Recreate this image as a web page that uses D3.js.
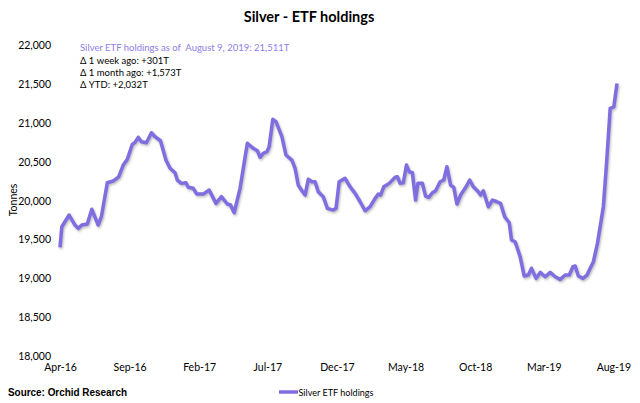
<!DOCTYPE html>
<html>
<head>
<meta charset="utf-8">
<script src="https://cdn.jsdelivr.net/npm/d3@7"></script>
<style>
  body { margin: 0; background: #fff; }
  text { font-family: Lato, "Open Sans", sans-serif; }
</style>
</head>
<body>
<div id="chart"></div>
<script>
// weekly-ish readings (tonnes)
const dates = [
  "2016-04-01","2016-04-05","2016-04-21","2016-05-04","2016-05-11","2016-05-19","2016-05-31","2016-06-10",
  "2016-06-24","2016-07-01","2016-07-14","2016-07-27","2016-08-08","2016-08-18","2016-08-27","2016-09-07",
  "2016-09-13","2016-09-20","2016-09-27","2016-10-08","2016-10-19","2016-10-27","2016-11-08","2016-11-20",
  "2016-11-29","2016-12-10","2016-12-15","2016-12-24","2017-01-03","2017-01-08","2017-01-19","2017-01-27",
  "2017-02-10","2017-02-23","2017-03-10","2017-03-22","2017-04-04","2017-04-11","2017-04-19","2017-05-02",
  "2017-05-18","2017-05-31","2017-06-09","2017-06-15","2017-06-22","2017-06-30","2017-07-05","2017-07-13",
  "2017-07-20","2017-08-02","2017-08-11","2017-08-24","2017-08-31","2017-09-07","2017-09-14","2017-09-22",
  "2017-09-29","2017-10-07","2017-10-14","2017-10-21","2017-11-01","2017-11-10","2017-11-23","2017-11-29",
  "2017-12-06","2017-12-19","2017-12-30","2018-01-10","2018-01-21","2018-02-01","2018-02-12","2018-02-23",
  "2018-03-02","2018-03-07","2018-03-14","2018-03-26","2018-04-08","2018-04-13","2018-04-19","2018-04-26",
  "2018-05-03","2018-05-09","2018-05-16","2018-05-23","2018-05-28","2018-06-07","2018-06-14","2018-06-21",
  "2018-06-29","2018-07-06","2018-07-16","2018-07-24","2018-07-31","2018-08-08","2018-08-15","2018-08-22",
  "2018-08-30","2018-09-11","2018-09-19","2018-09-27","2018-10-08","2018-10-13","2018-10-19","2018-10-30",
  "2018-11-08","2018-11-18","2018-11-26","2018-12-05","2018-12-15","2018-12-20","2018-12-28","2019-01-08",
  "2019-01-17","2019-01-26","2019-02-02","2019-02-12","2019-02-21","2019-03-04","2019-03-15","2019-03-26",
  "2019-04-06","2019-04-17","2019-04-26","2019-05-04","2019-05-09","2019-05-16","2019-05-26","2019-06-04",
  "2019-06-11","2019-06-18","2019-06-27","2019-07-10","2019-07-17","2019-07-25","2019-08-02","2019-08-09"
];
const holdings = [
  19400,19665,19816,19687,19644,19687,19700,19890,
  19687,19794,20232,20254,20309,20460,20533,20727,
  20752,20817,20760,20748,20876,20825,20773,20524,
  20418,20360,20267,20224,20232,20173,20160,20086,
  20086,20138,19966,20052,19958,19945,19845,20160,
  20740,20675,20645,20560,20611,20632,20696,21049,
  21018,20825,20589,20524,20418,20202,20138,20073,
  20276,20245,20245,20116,20052,19902,19880,19902,
  20245,20289,20180,20095,19987,19871,19923,20031,
  20086,20073,20180,20224,20302,20309,20224,20232,
  20460,20374,20361,20009,20224,20224,20060,20043,
  20103,20129,20245,20267,20438,20202,20173,19958,
  20073,20180,20267,20180,20116,20073,20129,19923,
  20009,19987,19966,19794,19716,19494,19472,19278,
  19030,19043,19129,19000,19077,19021,19077,19021,
  18987,19043,19043,19150,19159,19030,19000,19043,
  19129,19214,19451,19923,20482,21191,21210,21511
];
const yTicks = [18000,18500,19000,19500,20000,20500,21000,21500,22000];
const xTicks = ["2016-04-01","2016-09-01","2017-02-01","2017-07-01","2017-12-01","2018-05-01","2018-10-01","2019-03-01","2019-08-01"];
const notes = [
  "Silver ETF holdings as of  August 9, 2019: 21,511T",
  "\u0394 1 week ago: +301T",
  "\u0394 1 month ago: +1,573T",
  "\u0394 YTD: +2,032T"
];

const W = 640, H = 403;
const purple = "#7f6ee0";
const parse = d3.timeParse("%Y-%m-%d");
const data = dates.map((d, i) => ({ date: parse(d), v: holdings[i] }));

const svg = d3.select("#chart").append("svg").attr("width", W).attr("height", H);

const defs = svg.append("defs");
const f = defs.append("filter").attr("id", "shadow").attr("x", "-5%").attr("y", "-5%").attr("width", "110%").attr("height", "120%");
f.append("feDropShadow").attr("dx", 1).attr("dy", 1.5).attr("stdDeviation", 1.2)
  .attr("flood-color", "#666").attr("flood-opacity", 0.45);

const x = d3.scaleTime().domain([parse("2016-04-01"), parse("2019-08-09")]).range([60, 617]);
const y = d3.scaleLinear().domain([18000, 22000]).range([356, 45.5]);

svg.append("text").attr("x", 309).attr("y", 22).attr("text-anchor", "middle")
  .attr("font-size", 14.5).attr("font-weight", "bold").text("Silver - ETF holdings");

// y axis (labels only)
const yAxis = svg.append("g").attr("transform", "translate(51,0)")
  .call(d3.axisLeft(y).tickValues(yTicks).tickFormat(d3.format(",")).tickSize(0).tickPadding(0));
yAxis.select(".domain").remove();
yAxis.selectAll("text").attr("font-size", 10.5).attr("fill", "#000").style("font-family", "Lato, sans-serif");

// x axis (labels only)
const xAxis = svg.append("g").attr("transform", "translate(0,364)")
  .call(d3.axisBottom(x).tickValues(xTicks.map(parse)).tickFormat(d3.timeFormat("%b-%y")).tickSize(0).tickPadding(0));
xAxis.select(".domain").remove();
xAxis.selectAll("text").attr("font-size", 10.5).attr("fill", "#000").style("font-family", "Lato, sans-serif");

svg.append("text").attr("transform", "translate(17,200) rotate(-90)").attr("text-anchor", "middle")
  .attr("font-size", 10.5).text("Tonnes");

const line = d3.line().x(d => x(d.date)).y(d => y(d.v));
svg.append("path").datum(data).attr("d", line)
  .attr("fill", "none").attr("stroke", purple).attr("stroke-width", 3.5)
  .attr("stroke-linejoin", "round").attr("filter", "url(#shadow)");

svg.append("g").attr("transform", "translate(80,0) scale(0.95,1)")
  .selectAll("text").data(notes).enter().append("text")
  .attr("x", 0).attr("y", (d, i) => [51, 64, 76, 88][i])
  .attr("font-size", 10)
  .style("white-space", "pre")
  .attr("fill", (d, i) => i === 0 ? "#8e7ee6" : "#000")
  .text(d => d);

svg.append("text").attr("x", 8).attr("y", 396).attr("font-size", 11.5).attr("font-weight", "bold")
  .attr("textLength", 119).attr("lengthAdjust", "spacingAndGlyphs")
  .style("font-family", "'Liberation Sans', sans-serif")
  .text("Source: Orchid Research");

svg.append("line").attr("x1", 279).attr("x2", 298).attr("y1", 392).attr("y2", 392)
  .attr("stroke", purple).attr("stroke-width", 3.5);
svg.append("text").attr("x", 298.5).attr("y", 395.5).attr("font-size", 10)
  .attr("textLength", 75).attr("lengthAdjust", "spacingAndGlyphs")
  .text("Silver ETF holdings");
</script>
</body>
</html>
